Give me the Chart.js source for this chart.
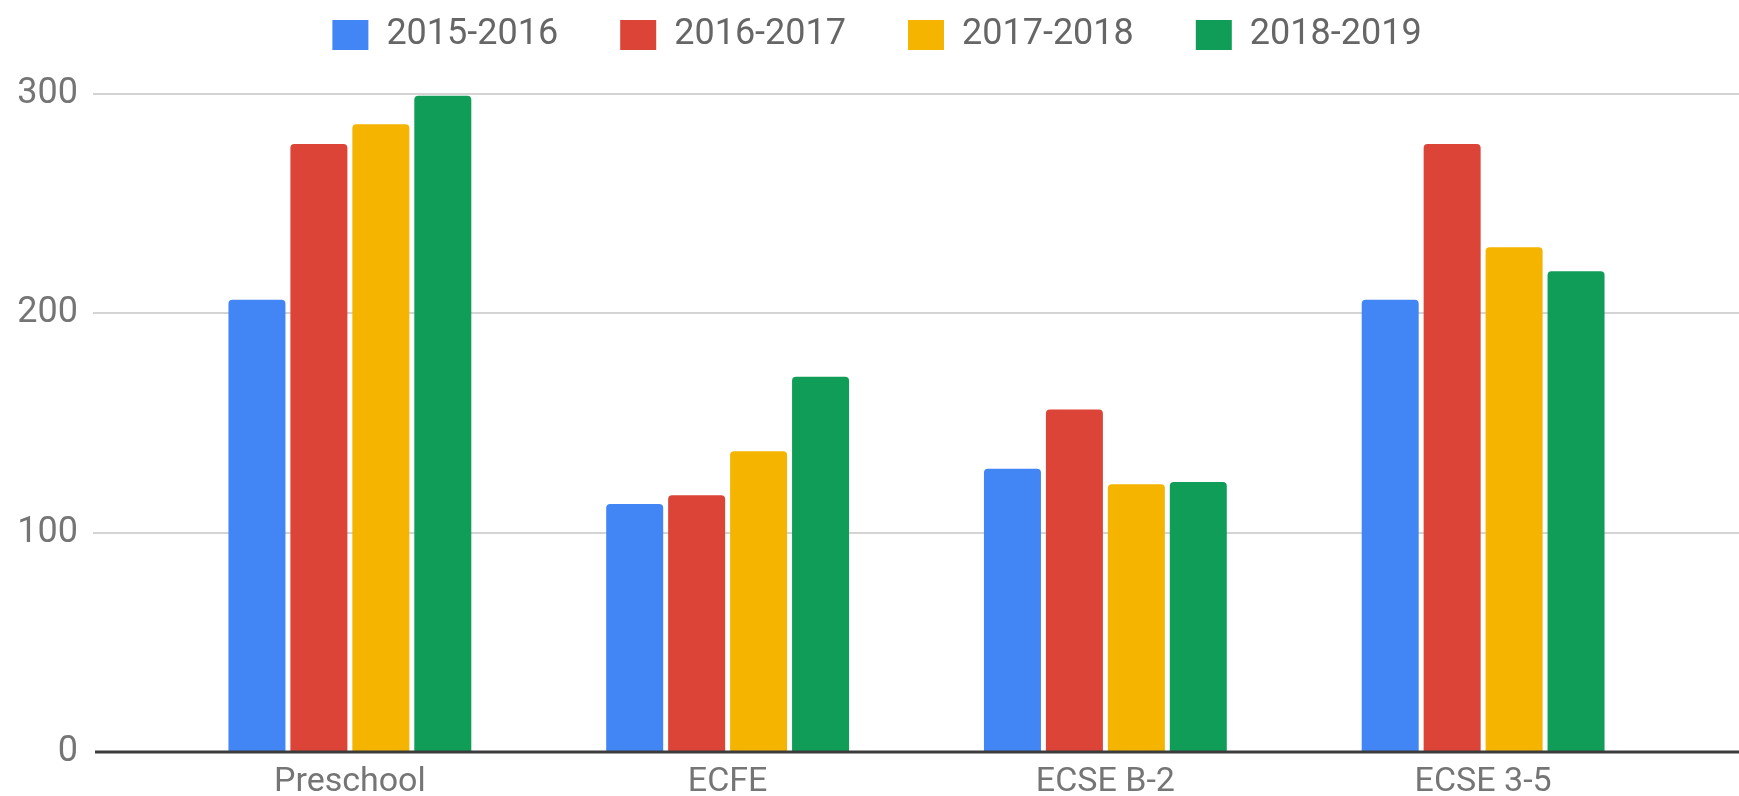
<!DOCTYPE html>
<html>
<head>
<meta charset="utf-8">
<script src="https://cdn.jsdelivr.net/npm/chart.js@4/dist/chart.umd.min.js"></script>
<style>
  html, body { margin: 0; padding: 0; background: #fff; }
  #wrap { width: 1739px; height: 796px; }
</style>
</head>
<body>
<div id="wrap"><canvas id="enrollChart"></canvas></div>
<script>
const programs = ['Preschool', 'ECFE', 'ECSE B-2', 'ECSE 3-5'];
const years = ['2015-2016', '2016-2017', '2017-2018', '2018-2019'];
const y2015 = [206, 113, 129, 206];
const y2016 = [277, 117, 156, 277];
const y2017 = [286, 137, 122, 230];
const y2018 = [299, 171, 123, 219];
const yTicks = [0, 100, 200, 300];
const colors = ['#4285f4', '#db4437', '#f4b400', '#0f9d58'];

const GRID_LEFT = 93;
const LEGEND_FONT = 36;
const LEGEND_PAD = 62;

// light gridlines under the bars, dark baseline on top
const gridLines = {
    id: 'gridLines',
    beforeDatasetsDraw(chart) {
        const { ctx, scales: { y } } = chart;
        ctx.save();
        ctx.strokeStyle = '#d4d4d4';
        ctx.lineWidth = 2;
        yTicks.forEach(v => {
            if (v === 0) return;
            const py = Math.round(y.getPixelForValue(v));
            ctx.beginPath();
            ctx.moveTo(GRID_LEFT, py);
            ctx.lineTo(chart.width, py);
            ctx.stroke();
        });
        ctx.restore();
    },
    afterDatasetsDraw(chart) {
        const { ctx, scales: { y } } = chart;
        const py = Math.round(y.getPixelForValue(0));
        ctx.save();
        ctx.strokeStyle = '#3c3c3c';
        ctx.lineWidth = 3;
        ctx.beginPath();
        ctx.moveTo(GRID_LEFT + 2, py);
        ctx.lineTo(chart.width, py);
        ctx.stroke();
        ctx.restore();
    }
};

// legend takes the space above the plot, but is drawn higher up and a bit to the right
const legendPlace = {
    id: 'legendPlace',
    beforeInit(chart) {
        const fit = chart.legend.fit;
        chart.legend.fit = function () {
            fit.call(this);
            this.height = 93.5;
        };
    },
    afterLayout(chart) {
        const lg = chart.legend;
        lg.top += 35 - LEGEND_PAD - LEGEND_FONT / 2;
        lg.left += 41;
        lg.right += 41;
    }
};

const series = [y2015, y2016, y2017, y2018];

const ctx = document.getElementById('enrollChart').getContext('2d');
const enrollChart = new Chart(ctx, {
    type: 'bar',
    data: {
        labels: programs,
        datasets: series.map((vals, i) => ({
            label: years[i],
            data: vals,
            backgroundColor: colors[i],
            borderRadius: 4,
            categoryPercentage: 0.656,
            barPercentage: 0.92
        }))
    },
    options: {
        responsive: true,
        maintainAspectRatio: false,
        animation: false,
        layout: {
            padding: { top: 0, bottom: 0, left: 0, right: 67 }
        },
        plugins: {
            tooltip: { enabled: false },
            legend: {
                position: 'top',
                labels: {
                    boxWidth: 36,
                    boxHeight: 30,
                    padding: LEGEND_PAD,
                    color: '#666666',
                    font: { family: 'Roboto', size: LEGEND_FONT }
                }
            }
        },
        scales: {
            x: {
                afterFit(scale) {
                    scale.height = 44;
                },
                grid: { display: false, drawTicks: false },
                border: { display: false },
                ticks: {
                    padding: 10,
                    color: '#757575',
                    font: { family: 'Roboto', size: 34 }
                }
            },
            y: {
                min: 0,
                max: 300,
                afterBuildTicks(scale) {
                    scale.ticks = yTicks.map(v => ({ value: v }));
                },
                afterFit(scale) {
                    scale.width = 161;
                    scale.paddingTop = 0;
                    scale.paddingBottom = 0;
                },
                grid: { display: false, drawTicks: false },
                border: { display: false },
                ticks: {
                    padding: 83,
                    color: '#757575',
                    font: { family: 'Roboto', size: 36 }
                }
            }
        }
    },
    plugins: [gridLines, legendPlace]
});
</script>
</body>
</html>
